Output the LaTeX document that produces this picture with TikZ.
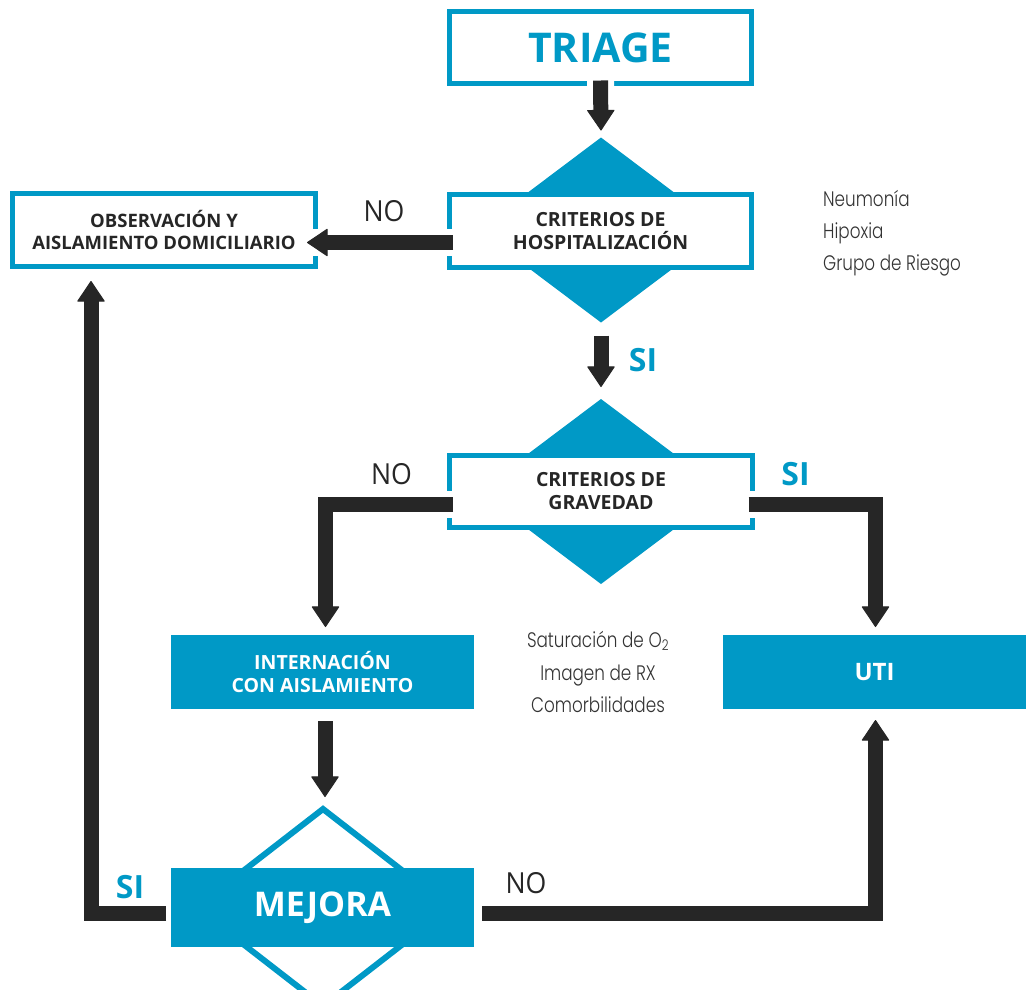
\documentclass[tikz,border=0pt]{standalone}
\usepackage{fontspec}
\setmainfont{Open Sans}
\newfontfamily\lightf{Poppins Light}[FakeStretch=0.8]
\newfontfamily\nof{Open Sans}[FakeStretch=0.92]
\usetikzlibrary{arrows.meta,shapes.geometric}
\definecolor{cblue}{HTML}{0099C6}
\definecolor{cdark}{HTML}{262626}
\definecolor{cgray}{HTML}{333333}
\tikzset{
  box/.style={draw=cblue, line width=5pt, fill=white, inner sep=0pt, outer sep=0pt,
    text=cdark, align=center, font=\bfseries\fontsize{19.5}{23}\selectfont},
  solidbox/.style={fill=cblue, inner sep=0pt, outer sep=0pt, text=white, align=center,
    font=\bfseries\fontsize{19.5}{23}\selectfont},
  dia/.style={shape=diamond, fill=cblue, inner sep=0pt, outer sep=0pt,
    minimum width=246pt, minimum height=185pt},
  arr/.style={draw=cdark, line width=15pt,
    -{Triangle[width=28pt,length=21pt,line width=1pt,round]},
    preaction={draw=white, line width=27pt, -}},
  nolab/.style={inner sep=0pt, text=cdark, font=\nof\fontsize{29}{29}\selectfont},
  silab/.style={inner sep=0pt, text=cblue, font=\bfseries\fontsize{32}{32}\selectfont},
  note/.style={inner sep=0pt, text=cgray, font=\lightf\fontsize{21}{21}\selectfont}
}
\begin{document}
\begin{tikzpicture}[x=1pt,y=-1pt]
\useasboundingbox[fill=white] (0,0) rectangle (1030,989);
% boxes
\node[box, minimum width=302pt, minimum height=72pt, text=cblue,
  font=\bfseries\fontsize{41}{41}\selectfont] (triage) at (600.5,47.5) {TRIAGE};
\node[dia] (d1) at (601,230) {};
\node[box, minimum width=302pt, minimum height=73pt] (r2) at (600.5,231) {CRITERIOS DE\\HOSPITALIZACIÓN};
\node[box, minimum width=303pt, minimum height=73pt,
  font=\bfseries\fontsize{18.5}{22}\selectfont] (obs) at (164,230) {OBSERVACIÓN Y\\AISLAMIENTO DOMICILIARIO};
\node[dia] (d2) at (601,491.5) {};
\node[box, minimum width=303pt, minimum height=72pt] (r3) at (601,491.5) {CRITERIOS DE\\GRAVEDAD};
\node[solidbox, minimum width=303pt, minimum height=74pt] (intern) at (322.5,672) {INTERNACIÓN\\CON AISLAMIENTO};
\node[solidbox, minimum width=303pt, minimum height=74pt,
  font=\bfseries\fontsize{24}{24}\selectfont] (uti) at (874.5,672) {UTI};
\node[shape=diamond, draw=cblue, fill=white, line width=6pt, inner sep=0pt, outer sep=0pt,
  minimum width=254pt, minimum height=197pt] (md) at (323,907.5) {};
\node[solidbox, minimum width=303pt, minimum height=79pt,
  font=\bfseries\fontsize{34}{34}\selectfont] (mejora) at (322.5,907.5) {MEJORA};
% connectors
\draw[arr] ([yshift=3pt]triage.south) -- ([yshift=7pt]d1.north);
\draw[arr] ([xshift=3.5pt,yshift=-11.5pt]r2.west) -- ([xshift=-8.5pt,yshift=-12.5pt]obs.east);
\draw[arr] ([yshift=-13pt]d1.south) -- ([yshift=12pt]d2.north);
\draw[arr] ([xshift=3.5pt,yshift=-13pt]r3.west) -| ([xshift=3pt,yshift=8pt]intern.north);
\draw[arr] ([xshift=-4pt,yshift=-13pt]r3.east) -| ([xshift=1pt,yshift=8pt]uti.north);
\draw[arr] ([xshift=2.5pt,yshift=-12pt]intern.south) -- ([xshift=2pt,yshift=12pt]md.north);
\draw[arr] ([xshift=-5pt,yshift=-6pt]mejora.west) -| ([xshift=-73pt,yshift=-14.5pt]obs.south);
\draw[arr] ([xshift=8pt,yshift=-6pt]mejora.east) -| ([xshift=1pt,yshift=-11pt]uti.south);
% labels
\node[nolab] (no1) at (384,211) {NO};
\node[nolab] (no2) at (391.5,474) {NO};
\node[nolab] (no3) at (526,883.5) {NO};
\node[silab] (si1) at (643,360) {SI};
\node[silab] (si2) at (795.5,474) {SI};
\node[silab] (si3) at (130,887) {SI};
% notes
\node[note, anchor=base west] (n1) at (823,206) {Neumonía};
\node[note, anchor=base west] (n2) at (823,238) {Hipoxia};
\node[note, anchor=base west] (n3) at (823,270) {Grupo de Riesgo};
\node[note, anchor=base] (s1) at (598,647) {Saturación de O\textsubscript{2}};
\node[note, anchor=base] (s2) at (598,680) {Imagen de RX};
\node[note, anchor=base] (s3) at (598,712) {Comorbilidades};
\end{tikzpicture}
\end{document}
